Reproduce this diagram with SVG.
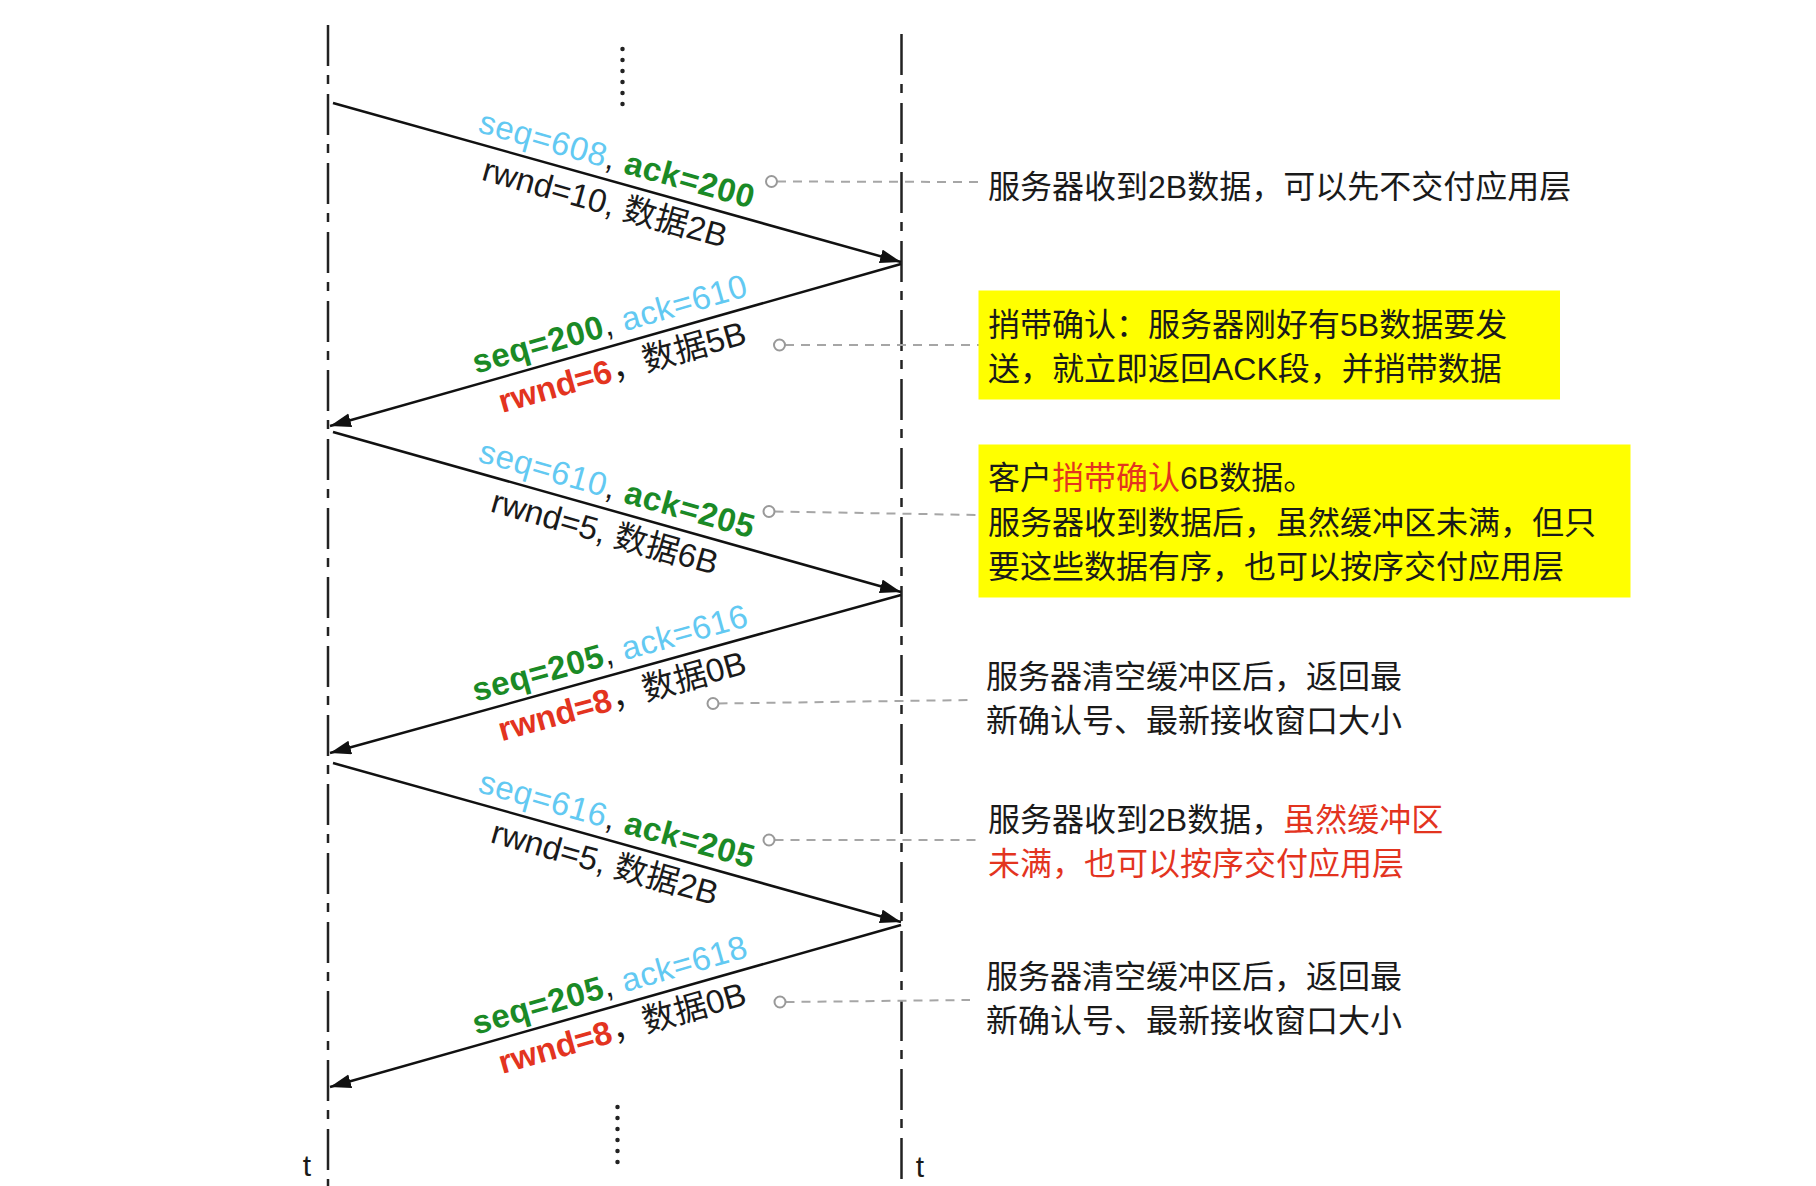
<svg xmlns="http://www.w3.org/2000/svg" width="1816" height="1186" viewBox="0 0 1816 1186">
<style>
.life{stroke:#222;stroke-width:2.5;stroke-dasharray:41 9 9 10;fill:none}
.dots{stroke:#222;stroke-width:4.5;stroke-linecap:round;stroke-dasharray:0 11;fill:none}
.msg{stroke:#111;stroke-width:2.5;fill:none;marker-end:url(#ah)}
.lead{stroke:#a6a6a6;stroke-width:2;stroke-dasharray:9 7;fill:none}
.ring{stroke:#999;stroke-width:2;fill:#fff}
.lbl{font-family:"Liberation Sans","Noto Sans CJK SC",sans-serif;font-size:33px;fill:#1a1a1a;text-anchor:middle}
.l1{letter-spacing:0.6px}
.note{font-family:"Liberation Sans","Noto Sans CJK SC",sans-serif;font-size:32px;fill:#1a1a1a}
.tl{font-family:"Liberation Sans",sans-serif;font-size:30px;fill:#1a1a1a;text-anchor:middle}
.b{fill:#62c9f2}
.g{fill:#1a8a26;font-weight:bold}
.r{fill:#e3341f;font-weight:bold}
.red{fill:#e3341f}
.hl{fill:#ffff00}
</style>
<defs>
<marker id="ah" markerUnits="userSpaceOnUse" markerWidth="22" markerHeight="16" refX="21" refY="7" orient="auto">
<path d="M0,0 L21,7 L0,14 z" fill="#111"/>
</marker>
</defs>
<rect width="1816" height="1186" fill="#fff"/>

<g id="lifelines">
<line class="life" x1="328" y1="25" x2="328" y2="1186"/>
<line class="life" x1="901.5" y1="34" x2="901.5" y2="1186"/>
<line class="dots" x1="622.5" y1="49" x2="622.5" y2="106"/>
<line class="dots" x1="617.5" y1="1107" x2="617.5" y2="1164"/>
<text class="tl" x="307" y="1176">t</text>
<text class="tl" x="920" y="1177">t</text>
</g>

<g id="connectors">
<line class="msg" x1="333" y1="103" x2="901" y2="262"/>
<line class="msg" x1="901" y1="264" x2="330" y2="426"/>
<line class="msg" x1="333" y1="432" x2="901" y2="592"/>
<line class="msg" x1="901" y1="595" x2="330" y2="753"/>
<line class="msg" x1="333" y1="763" x2="901" y2="922"/>
<line class="msg" x1="901" y1="925" x2="330" y2="1087"/>
<g id="leaders">
<line class="lead" x1="777" y1="181.5" x2="979" y2="182"/>
<circle class="ring" cx="771.5" cy="181.5" r="5.5"/>
<line class="lead" x1="785" y1="345" x2="979" y2="345"/>
<circle class="ring" cx="779.5" cy="345" r="5.5"/>
<line class="lead" x1="774.5" y1="511.5" x2="979" y2="515"/>
<circle class="ring" cx="769" cy="511.5" r="5.5"/>
<line class="lead" x1="718.5" y1="703.5" x2="970" y2="700"/>
<circle class="ring" cx="713" cy="703.5" r="5.5"/>
<line class="lead" x1="774.5" y1="840" x2="979" y2="840"/>
<circle class="ring" cx="769" cy="840" r="5.5"/>
<line class="lead" x1="785.5" y1="1002" x2="970" y2="1000"/>
<circle class="ring" cx="780" cy="1002" r="5.5"/>
</g>
</g>

<g id="label1" transform="translate(613,181.4) rotate(15.64)">
<text class="lbl l1" x="-2" y="-11"><tspan class="b">seq=608</tspan>, <tspan class="g">ack=200</tspan></text>
<text class="lbl" x="-2" y="34">rwnd=10, 数据2B</text>
</g>
<g id="label2" transform="translate(613,346.1) rotate(-15.92)">
<text class="lbl l1" x="3" y="-11"><tspan class="g">seq=200</tspan>, <tspan class="b">ack=610</tspan></text>
<text class="lbl" x="3" y="34"><tspan class="r">rwnd=6</tspan>，数据5B</text>
</g>
<g id="label3" transform="translate(613,510.9) rotate(15.74)">
<text class="lbl l1" x="-2" y="-11"><tspan class="b">seq=610</tspan>, <tspan class="g">ack=205</tspan></text>
<text class="lbl" x="-2" y="34">rwnd=5, 数据6B</text>
</g>
<g id="label4" transform="translate(613,675.1) rotate(-15.53)">
<text class="lbl l1" x="3" y="-11"><tspan class="g">seq=205</tspan>, <tspan class="b">ack=616</tspan></text>
<text class="lbl" x="3" y="34"><tspan class="r">rwnd=8</tspan>，数据0B</text>
</g>
<g id="label5" transform="translate(613,841.4) rotate(15.64)">
<text class="lbl l1" x="-2" y="-11"><tspan class="b">seq=616</tspan>, <tspan class="g">ack=205</tspan></text>
<text class="lbl" x="-2" y="34">rwnd=5, 数据2B</text>
</g>
<g id="label6" transform="translate(613,1007.1) rotate(-15.92)">
<text class="lbl l1" x="3" y="-11"><tspan class="g">seq=205</tspan>, <tspan class="b">ack=618</tspan></text>
<text class="lbl" x="3" y="34"><tspan class="r">rwnd=8</tspan>，数据0B</text>
</g>

<g id="note1">
<text class="note" x="988" y="198">服务器收到2B数据，可以先不交付应用层</text>
</g>
<g id="note2">
<rect class="hl" x="978.5" y="290.5" width="581.5" height="109"/>
<text class="note" x="988" y="336">捎带确认：服务器刚好有5B数据要发</text>
<text class="note" x="988" y="380">送，就立即返回ACK段，并捎带数据</text>
</g>
<g id="note3">
<rect class="hl" x="978.5" y="444.5" width="652" height="153"/>
<text class="note" x="988" y="489">客户<tspan class="red">捎带确认</tspan>6B数据。</text>
<text class="note" x="988" y="534">服务器收到数据后，虽然缓冲区未满，但只</text>
<text class="note" x="988" y="578">要这些数据有序，也可以按序交付应用层</text>
</g>
<g id="note4">
<text class="note" x="986" y="688">服务器清空缓冲区后，返回最</text>
<text class="note" x="986" y="732">新确认号、最新接收窗口大小</text>
</g>
<g id="note5">
<text class="note" x="988" y="831">服务器收到2B数据，<tspan class="red">虽然缓冲区</tspan></text>
<text class="note red" x="988" y="875">未满，也可以按序交付应用层</text>
</g>
<g id="note6">
<text class="note" x="986" y="988">服务器清空缓冲区后，返回最</text>
<text class="note" x="986" y="1032">新确认号、最新接收窗口大小</text>
</g>
</svg>
